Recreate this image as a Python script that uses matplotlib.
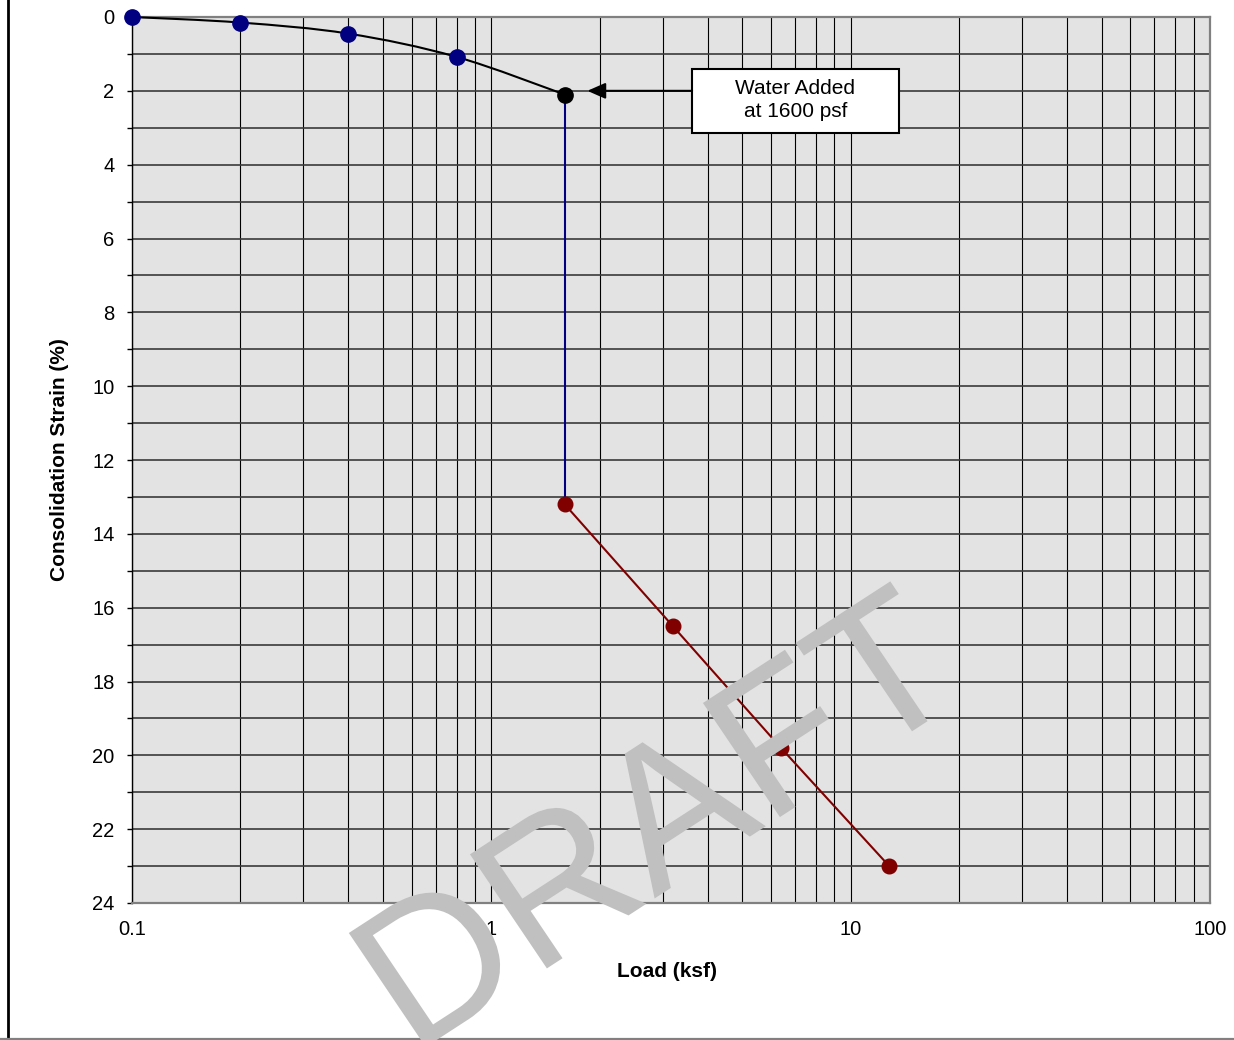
import numpy as np
import matplotlib
matplotlib.use('Agg')
import matplotlib.pyplot as plt
from matplotlib.path import Path
from matplotlib.patches import PathPatch, Rectangle
from matplotlib.textpath import TextPath
from matplotlib.font_manager import FontProperties
from matplotlib.transforms import Affine2D
from matplotlib.ticker import MultipleLocator, LogLocator, FuncFormatter, NullFormatter
from matplotlib.lines import Line2D

plt.rcParams['font.family'] = ['Liberation Sans', 'DejaVu Sans']

# consolidation test readings
load_dry = [0.1, 0.2, 0.4, 0.8, 1.6]          # ksf, before wetting
strain_dry = [0.0, 0.15, 0.45, 1.08, 2.1]     # %
load_wet = [1.6, 3.2, 6.4, 12.8]              # ksf, after wetting
strain_wet = [13.2, 16.5, 19.8, 23.0]         # %
wet_load = 1.6
wet_strain = [2.1, 13.2]

x_ticks = [0.1, 1, 10, 100]
note_text = 'Water Added\nat 1600 psf'

fig = plt.figure(figsize=(12.34, 10.4), dpi=100)
ax = fig.add_axes([132 / 1234, 137 / 1040, 1078 / 1234, 886 / 1040])
ax.set_facecolor('#e3e3e3')
ax.set_xscale('log')
ax.set_xlim(0.1, 100)
ax.set_ylim(24, 0)

# smoothed curve through the dry readings (Catmull-Rom as bezier, in log-x space)
u = np.log10(load_dry)
v = np.array(strain_dry)
pts = np.column_stack([u, v])
ext = np.vstack([pts[0], pts, pts[-1]])
verts = [pts[0]]
codes = [Path.MOVETO]
for i in range(len(pts) - 1):
    p0, p1, p2, p3 = ext[i], ext[i + 1], ext[i + 2], ext[i + 3]
    verts += [p1 + (p2 - p0) / 6, p2 - (p3 - p1) / 6, p2]
    codes += [Path.CURVE4] * 3
verts = np.array(verts)
verts[:, 0] = 10 ** verts[:, 0]
ax.add_patch(PathPatch(Path(verts, codes), fill=False, edgecolor='black', lw=1.5,
                       zorder=3, clip_on=False))

ax.plot([wet_load, wet_load], wet_strain, color='#000080', lw=1.5, zorder=3)
ax.plot(load_wet, strain_wet, color='#800000', lw=1.5, marker='o', ms=10.5, zorder=4)
ax.plot(load_dry[:-1], strain_dry[:-1], ls='none', marker='o', ms=11, color='#000080',
        zorder=4, clip_on=False)
ax.plot(load_dry[-1:], strain_dry[-1:], ls='none', marker='o', ms=11, color='black', zorder=5)

# note box and arrow
box_x0, box_x1, box_y0, box_y1 = 3.62, 13.6, 1.41, 3.14
ax.add_patch(Rectangle((box_x0, box_y0), box_x1 - box_x0, box_y1 - box_y0,
                       facecolor='white', edgecolor='black', lw=1.5, zorder=6))
ax.text(np.sqrt(box_x0 * box_x1), (box_y0 + box_y1) / 2 - 0.03, note_text, ha='center', va='center',
        fontsize=15, linespacing=1.3, zorder=7)
ax.annotate('', xy=(1.85, 2.0), xytext=(box_x0, 2.0),
            arrowprops=dict(arrowstyle='-|>,head_length=0.5,head_width=0.22', color='black',
                            lw=1.5, mutation_scale=22, shrinkA=0, shrinkB=0), zorder=6)

# axes, grid, ticks
ax.xaxis.set_minor_locator(LogLocator(base=10, subs=np.arange(2, 10)))
ax.set_xticks(x_ticks)
ax.xaxis.set_major_formatter(FuncFormatter(lambda val, pos: '%g' % val))
ax.xaxis.set_minor_formatter(NullFormatter())
ax.yaxis.set_major_locator(MultipleLocator(2))
ax.yaxis.set_minor_locator(MultipleLocator(1))
ax.tick_params(axis='x', which='both', length=0, labelsize=14.5, pad=12)
ax.tick_params(axis='y', which='both', length=3.6, width=1, direction='out', labelsize=14.5, pad=9)
ax.set_axisbelow(True)
ax.grid(True, which='both', axis='x', color='black', lw=0.8)
ax.grid(True, which='both', axis='y', color='#3a3a3a', lw=1.2)
for side in ['top', 'right', 'bottom']:
    ax.spines[side].set_color('#808080')
    ax.spines[side].set_linewidth(1.6)
ax.spines['left'].set_color('black')
ax.spines['left'].set_linewidth(1.0)

ax.set_xlabel('Load (ksf)', fontsize=15, fontweight='bold')
ax.xaxis.set_label_coords(0.496, -0.0666)
ax.set_ylabel('Consolidation Strain (%)', fontsize=15, fontweight='bold')
ax.yaxis.set_label_coords(-0.058, 0.5)

# outer chart border (only left and bottom visible)
fig.add_artist(Line2D([8 / 1234, 8 / 1234], [0, 1], color='black', lw=2, transform=fig.transFigure))
fig.add_artist(Line2D([0, 1], [1.5 / 1040, 1.5 / 1040], color='#808080', lw=1.6, transform=fig.transFigure))

# DRAFT watermark: slanted text, baseline at 33 deg, letter stems at 124 deg
em = 200.0
tp = TextPath((0, 0), 'DRAFT', size=em, prop=FontProperties(family='Liberation Sans'))
ang_u, ang_v = np.radians(33.0), np.radians(124.0)
M = np.array([[np.cos(ang_u), np.cos(ang_v), 412.0],
              [np.sin(ang_u), np.sin(ang_v), -16.0],
              [0, 0, 1]])
fig.add_artist(PathPatch(tp, transform=Affine2D(M), facecolor='#c0c0c0', edgecolor='none', zorder=10))

fig.savefig('out.png', dpi=100)
